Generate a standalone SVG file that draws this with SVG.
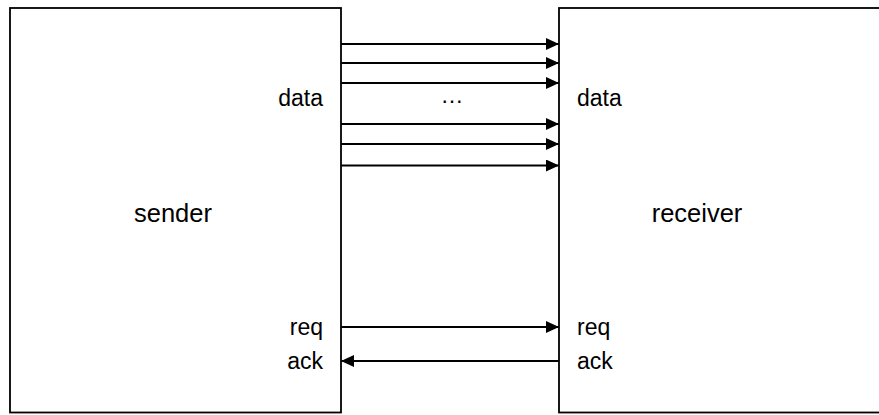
<svg xmlns="http://www.w3.org/2000/svg" width="879" height="415" viewBox="0 0 879 415">
  <style>
    .box { fill: #ffffff; stroke: #000000; stroke-width: 1.8; }
    .wire { stroke: #000000; stroke-width: 1.8; fill: none; marker-end: url(#head); }
    .lbl { font-family: "Liberation Sans", Arial, sans-serif; font-size: 23px; fill: #000000; }
    .name { font-family: "Liberation Sans", Arial, sans-serif; font-size: 25.5px; fill: #000000; text-anchor: middle; }
  </style>
  <defs>
    <marker id="head" markerUnits="userSpaceOnUse" markerWidth="14" markerHeight="13" refX="13" refY="6" orient="auto">
      <path d="M0,0 L13,6 L0,12 z" fill="#000000"/>
    </marker>
  </defs>
  <rect width="879" height="415" fill="#ffffff"/>

  <g id="sender">
    <rect class="box" x="10" y="8" width="331" height="404.5"/>
    <text class="name" x="173" y="222">sender</text>
    <text class="lbl" x="323" y="106" text-anchor="end">data</text>
    <text class="lbl" x="323" y="335" text-anchor="end">req</text>
    <text class="lbl" x="323" y="369" text-anchor="end">ack</text>
  </g>

  <g id="receiver">
    <rect class="box" x="559" y="8" width="340" height="404.5"/>
    <text class="name" x="697" y="222">receiver</text>
    <text class="lbl" x="577" y="106">data</text>
    <text class="lbl" x="577" y="335">req</text>
    <text class="lbl" x="577" y="369">ack</text>
  </g>

  <g id="connectors">
    <line class="wire" x1="341" y1="44" x2="559" y2="44"/>
    <line class="wire" x1="341" y1="63" x2="559" y2="63"/>
    <line class="wire" x1="341" y1="83" x2="559" y2="83"/>
    <line class="wire" x1="341" y1="124" x2="559" y2="124"/>
    <line class="wire" x1="341" y1="144" x2="559" y2="144"/>
    <line class="wire" x1="341" y1="165.5" x2="559" y2="165.5"/>
    <line class="wire" x1="341" y1="327" x2="559" y2="327"/>
    <line class="wire" x1="559" y1="361" x2="341" y2="361"/>
    <text class="lbl" x="452" y="103" text-anchor="middle" font-size="25">…</text>
  </g>
</svg>
